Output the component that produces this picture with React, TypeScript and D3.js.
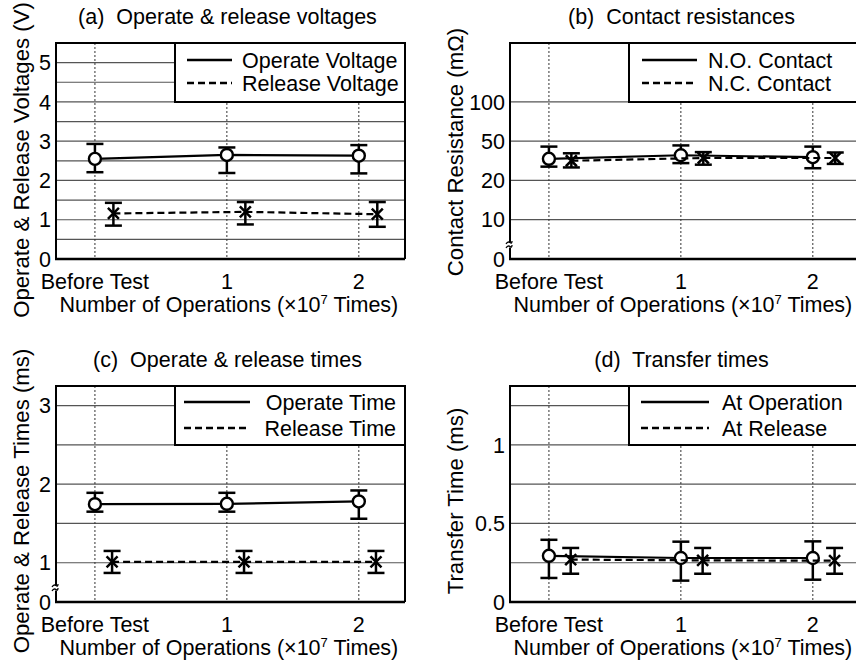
import * as d3 from 'd3'

// x categories
const categories = ['Before Test', '1', '2']
const catIndex = [0, 1, 2]

// (a) operate & release voltages (V)
const operateVoltage = [2.55, 2.65, 2.63]
const operateVoltageHi = [2.93, 2.84, 2.9]
const operateVoltageLo = [2.21, 2.19, 2.18]
const releaseVoltage = [1.16, 1.2, 1.14]
const releaseVoltageHi = [1.43, 1.45, 1.45]
const releaseVoltageLo = [0.85, 0.88, 0.82]

// (b) contact resistances (mOhm)
const noContact = [36.5, 39.2, 37.7]
const noContactHi = [45.8, 46.7, 45.8]
const noContactLo = [30.5, 33.2, 29.3]
const ncContact = [35, 37.1, 37.1]
const ncContactHi = [40.7, 41.6, 41.3]
const ncContactLo = [29.9, 32, 32.6]

// (c) operate & release times (ms)
const operateTime = [1.745, 1.75, 1.78]
const operateTimeHi = [1.89, 1.89, 1.92]
const operateTimeLo = [1.65, 1.65, 1.56]
const releaseTime = [1.01, 1.01, 1.01]
const releaseTimeHi = [1.15, 1.15, 1.15]
const releaseTimeLo = [0.87, 0.87, 0.87]

// (d) transfer times (ms)
const atOperation = [0.294, 0.28, 0.28]
const atOperationHi = [0.396, 0.384, 0.386]
const atOperationLo = [0.153, 0.136, 0.142]
const atRelease = [0.27, 0.265, 0.263]
const atReleaseHi = [0.344, 0.344, 0.344]
const atReleaseLo = [0.18, 0.18, 0.18]

// y ticks / grid
const ticksA = [0, 1, 2, 3, 4, 5]
const gridA = [0.5, 1, 1.5, 2, 2.5, 3, 3.5, 4, 4.5, 5]
const ticksB = [10, 20, 50, 100]
const gridB = [10, 20, 50, 100]
const ticksC = [1, 2, 3]
const gridC = [1, 1.5, 2, 2.5, 3]
const ticksD = [0, 0.5, 1]
const gridD = [0.25, 0.5, 0.75, 1, 1.25]

const FONT = 'Liberation Sans, Arial, Helvetica, sans-serif'
const W = 856
const H = 661
const UNIT = 39.3

type Series = { name: string; v: number[]; hi: number[]; lo: number[]; dashed: boolean; dx: number }
type Legend = { lx1: number; lx2: number; tx: number; anchor: 'start' | 'end'; r1: number; r2: number }
type PanelCfg = {
  title: string
  ylabel: string
  ylabelX: number
  ylabelY: number
  left: number
  top: number
  bottom: number
  y: d3.ScaleLinear<number, number>
  ticks: number[]
  grid: number[]
  breakLabel: boolean
  series: Series[]
  legend: Legend
}

function Panel({ c }: { c: PanelCfg }) {
  const x = d3.scaleLinear().domain([-0.295, 2.35]).range([c.left, c.left + 349])
  const y = c.y
  const right = c.left + 349
  const legX = c.left + 119
  const legBottom = c.top + 59
  const line = (s: Series) =>
    d3.line<number>().x((_, i) => x(catIndex[i] + s.dx)).y(v => y(v))(s.v) ?? ''
  const brkY = c.bottom - 14

  return (
    <g fontFamily={FONT} fontSize={21.5} fill="#000">
      <text x={(c.left + right) / 2 - 3} y={c.top - 19} textAnchor="middle" style={{ whiteSpace: 'pre' }}>
        {c.title}
      </text>
      {/* grid */}
      {c.grid.map(g => (
        <line key={g} x1={c.left} x2={right} y1={y(g)} y2={y(g)} stroke="#555" strokeWidth={1.2} />
      ))}
      {catIndex.map(i => (
        <line key={i} x1={x(i)} x2={x(i)} y1={c.top} y2={c.bottom} stroke="#333" strokeWidth={1} strokeDasharray="2,2" />
      ))}
      {/* legend box */}
      <rect x={legX} y={c.top} width={right - legX} height={legBottom - c.top} fill="#fff" stroke="#000" strokeWidth={2} />
      {/* frame */}
      <path
        d={`M${c.left},${c.bottom}V${c.top}H${right}V${c.bottom}`}
        fill="none" stroke="#000" strokeWidth={2}
      />
      <line x1={c.left - 1} x2={right} y1={c.bottom} y2={c.bottom} stroke="#000" strokeWidth={2.6} />
      {c.breakLabel && (
        <g fill="none" stroke="#000" strokeWidth={1.3}>
          <rect x={c.left - 3} y={brkY - 2.5} width={6} height={5} fill="#fff" stroke="none" />
          <path d={`M${c.left - 4},${brkY - 1} Q${c.left - 2},${brkY - 4} ${c.left},${brkY - 2.5} T${c.left + 2},${brkY - 4}`} />
          <path d={`M${c.left - 4},${brkY + 3} Q${c.left - 2},${brkY} ${c.left},${brkY + 1.5} T${c.left + 2},${brkY}`} />
        </g>
      )}
      {c.series.map((s, k) => {
        const ry = k === 0 ? c.top + c.legend.r1 : c.top + c.legend.r2
        return (
          <g key={s.name}>
            <line x1={c.left + c.legend.lx1} x2={c.left + c.legend.lx2} y1={ry} y2={ry} stroke="#000"
              strokeWidth={2.6} strokeDasharray={s.dashed ? '7,4' : undefined} />
            <text x={c.left + c.legend.tx} y={ry} dy="0.35em" textAnchor={c.legend.anchor}>{s.name}</text>
          </g>
        )
      })}
      {/* y ticks */}
      {c.ticks.map(t => (
        <text key={t} x={c.left - 5} y={y(t)} dy="0.36em" textAnchor="end">{t}</text>
      ))}
      {c.breakLabel && (
        <text x={c.left - 5} y={c.bottom} dy="0.36em" textAnchor="end">0</text>
      )}
      <text transform={`translate(${c.ylabelX},${c.ylabelY}) rotate(-90)`} textAnchor="middle" fontSize={22.2}>
        {c.ylabel}
      </text>
      {/* x ticks */}
      {categories.map((cat, i) => (
        <text key={cat} x={x(catIndex[i])} y={c.bottom + 30} textAnchor="middle">{cat}</text>
      ))}
      <text x={x(1) + 2} y={c.bottom + 53} textAnchor="middle">
        Number of Operations (×10<tspan fontSize={13} dy={-8}>7</tspan><tspan dy={8}> Times)</tspan>
      </text>
      {/* data */}
      {c.series.map(s => (
        <g key={s.name}>
          <path d={line(s)} fill="none" stroke="#000" strokeWidth={2.2} strokeDasharray={s.dashed ? '7,4' : undefined} />
          {s.v.map((v, i) => {
            const cx = x(catIndex[i] + s.dx)
            return (
              <g key={i} stroke="#000">
                <line x1={cx} x2={cx} y1={y(s.hi[i])} y2={y(s.lo[i])} strokeWidth={2.5} />
                <line x1={cx - 8.5} x2={cx + 8.5} y1={y(s.hi[i])} y2={y(s.hi[i])} strokeWidth={2.5} />
                <line x1={cx - 8.5} x2={cx + 8.5} y1={y(s.lo[i])} y2={y(s.lo[i])} strokeWidth={2.5} />
                {s.dashed ? (
                  <path d={`M${cx - 5.5},${y(v) - 5.5}L${cx + 5.5},${y(v) + 5.5}M${cx - 5.5},${y(v) + 5.5}L${cx + 5.5},${y(v) - 5.5}`}
                    strokeWidth={2.5} />
                ) : (
                  <circle cx={cx} cy={y(v)} r={6} fill="#fff" strokeWidth={2.4} />
                )}
              </g>
            )
          })}
        </g>
      ))}
    </g>
  )
}

export default function App() {
  const topA = 43, botA = 259
  const topC = 386, botC = 602
  const unitsB = [0, 1, 2, 3, 4, 5.5]

  const panels: PanelCfg[] = [
    {
      title: '(a)  Operate & release voltages',
      ylabel: 'Operate & Release Voltages (V)', ylabelX: 29, ylabelY: 160,
      left: 56, top: topA, bottom: botA,
      y: d3.scaleLinear().domain([0, 5.5]).range([botA, topA]),
      ticks: ticksA, grid: gridA, breakLabel: false,
      series: [
        { name: 'Operate Voltage', v: operateVoltage, hi: operateVoltageHi, lo: operateVoltageLo, dashed: false, dx: 0 },
        { name: 'Release Voltage', v: releaseVoltage, hi: releaseVoltageHi, lo: releaseVoltageLo, dashed: true, dx: 0.14 },
      ],
      legend: { lx1: 131, lx2: 176, tx: 186, anchor: 'start', r1: 17, r2: 40 },
    },
    {
      title: '(b)  Contact resistances',
      ylabel: 'Contact Resistance (mΩ)', ylabelX: 463, ylabelY: 152,
      left: 510, top: topA, bottom: botA,
      y: d3.scaleLinear().domain([0, 10, 20, 50, 100, 175]).range(unitsB.map(u => botA - u * UNIT)),
      ticks: ticksB, grid: gridB, breakLabel: true,
      series: [
        { name: 'N.O. Contact', v: noContact, hi: noContactHi, lo: noContactLo, dashed: false, dx: 0 },
        { name: 'N.C. Contact', v: ncContact, hi: ncContactHi, lo: ncContactLo, dashed: true, dx: 0.17 },
      ],
      legend: { lx1: 132, lx2: 187, tx: 198, anchor: 'start', r1: 17, r2: 40 },
    },
    {
      title: '(c)  Operate & release times',
      ylabel: 'Operate & Release Times (ms)', ylabelX: 29, ylabelY: 501,
      left: 56, top: topC, bottom: botC,
      y: d3.scaleLinear().domain([0.5, 3.25]).range([botC, topC]),
      ticks: ticksC, grid: gridC, breakLabel: true,
      series: [
        { name: 'Operate Time', v: operateTime, hi: operateTimeHi, lo: operateTimeLo, dashed: false, dx: 0 },
        { name: 'Release Time', v: releaseTime, hi: releaseTimeHi, lo: releaseTimeLo, dashed: true, dx: 0.13 },
      ],
      legend: { lx1: 128, lx2: 194, tx: 340, anchor: 'end', r1: 16, r2: 42 },
    },
    {
      title: '(d)  Transfer times',
      ylabel: 'Transfer Time (ms)', ylabelX: 463, ylabelY: 501,
      left: 510, top: topC, bottom: botC,
      y: d3.scaleLinear().domain([0, 1.375]).range([botC, topC]),
      ticks: ticksD, grid: gridD, breakLabel: false,
      series: [
        { name: 'At Operation', v: atOperation, hi: atOperationHi, lo: atOperationLo, dashed: false, dx: 0 },
        { name: 'At Release', v: atRelease, hi: atReleaseHi, lo: atReleaseLo, dashed: true, dx: 0.165 },
      ],
      legend: { lx1: 131, lx2: 199, tx: 212, anchor: 'start', r1: 16, r2: 42 },
    },
  ]

  return (
    <svg width={W} height={H} style={{ position: 'absolute', left: 0, top: 0, background: '#fff' }}>
      <rect width={W} height={H} fill="#fff" />
      {panels.map(p => <Panel key={p.title} c={p} />)}
    </svg>
  )
}
